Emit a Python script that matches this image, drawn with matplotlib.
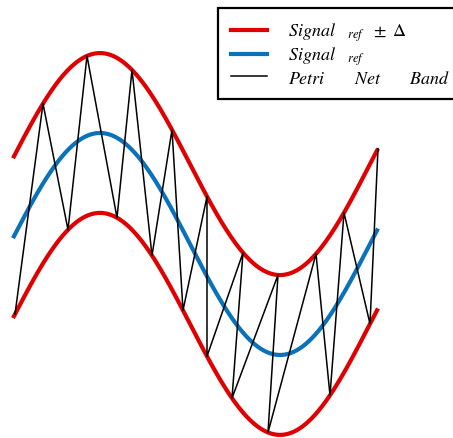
import numpy as np
import matplotlib
matplotlib.use('Agg')
import matplotlib.pyplot as plt
from matplotlib.lines import Line2D

# Reference signal: one period of a sine, x in degrees
x_start, x_end = 3, 368
delta = 0.72                                    # half width of the band

# Petri net band: x of each zigzag vertex, and which edge it touches (-1 lower, +1 upper)
zz_x    = [5, 33, 58, 77, 107, 122, 142, 162, 173, 197, 197, 233, 222, 268, 258, 306, 320, 334, 360, 368]
zz_side = [-1, 1, -1, 1, -1, 1, -1, 1, -1, 1, -1, 1, -1, 1, -1, 1, -1, 1, -1, 1]

labels = [r'$Signal\ \ \ {}_{ref}\ \ \pm\ \Delta$',
          r'$Signal\ \ \ {}_{ref}$',
          r'$Petri\qquad\ Net\qquad\ Band\qquad\qquad$']

red  = '#e00000'
blue = '#0a72ba'

plt.rcParams['mathtext.fontset'] = 'stix'

def ref(x):
    return np.sin(np.radians(x))

fig = plt.figure(figsize=(4.53, 4.39), dpi=100)
ax = fig.add_axes([0, 0, 1, 1])

xs = np.linspace(x_start, x_end, 500)
ax.plot(xs, ref(xs) + delta, color=red, lw=3.0, solid_capstyle='butt', zorder=3)
ax.plot(xs, ref(xs) - delta, color=red, lw=3.0, solid_capstyle='butt', zorder=3)
ax.plot(xs, ref(xs), color=blue, lw=3.0, solid_capstyle='butt', zorder=2)

zx = np.array(zz_x, dtype=float)
zy = ref(zx) + np.array(zz_side) * delta
ax.plot(zx, zy, color='black', lw=1.1, zorder=4)

ax.set_xlim(-10, 443)
ax.set_ylim(-1.748, 2.207)
ax.axis('off')

handles = [Line2D([], [], color=red, lw=3.0),
           Line2D([], [], color=blue, lw=3.0),
           Line2D([], [], color='black', lw=1.1)]
leg = ax.legend(handles, labels, loc='upper left', bbox_to_anchor=(218/453, 1 - 9/439),
                bbox_transform=fig.transFigure, fancybox=False, framealpha=1,
                edgecolor='black', fontsize=13, handlelength=2.0, handletextpad=1.15,
                labelspacing=0.08, borderpad=0.7, borderaxespad=0)
leg.get_frame().set_linewidth(1.6)

fig.savefig('out.png', dpi=100)
